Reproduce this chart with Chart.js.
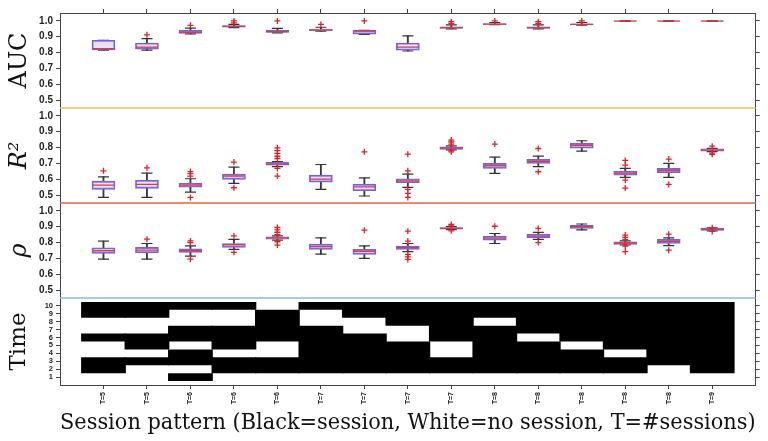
<!DOCTYPE html>
<html>
<head>
<meta charset="utf-8">
<script src="https://cdn.jsdelivr.net/npm/chart.js@4.4.1/dist/chart.umd.min.js"></script>
<style>
  html, body { margin: 0; padding: 0; background: #fff; }
</style>
</head>
<body>
<canvas id="sessionChart" width="768" height="441"></canvas>
<script>
const patternLabels = ["T=5", "T=5", "T=6", "T=6", "T=6", "T=7", "T=7", "T=7", "T=7", "T=8", "T=8", "T=8", "T=8", "T=8", "T=9"];
const patternTicks = [1, 2, 3, 4, 5, 6, 7, 8, 9, 10, 11, 12, 13, 14, 15];
const metricTicks = [0.5, 0.6, 0.7, 0.8, 0.9, 1.0];
const timeTicks = [1, 2, 3, 4, 5, 6, 7, 8, 9, 10];

// time slots (1..10) that hold a session, one list per pattern
const sessionTimes = [
    [2, 3, 6, 9, 10],
    [3, 5, 6, 9, 10],
    [1, 3, 4, 6, 7, 10],
    [2, 3, 5, 6, 7, 10],
    [2, 3, 6, 7, 8, 9],
    [2, 3, 4, 5, 6, 7, 10],
    [2, 3, 4, 5, 6, 9, 10],
    [2, 3, 4, 5, 8, 9, 10],
    [2, 3, 6, 7, 8, 9, 10],
    [2, 3, 4, 5, 6, 7, 9, 10],
    [2, 3, 4, 5, 7, 8, 9, 10],
    [2, 3, 4, 6, 7, 8, 9, 10],
    [2, 3, 5, 6, 7, 8, 9, 10],
    [3, 4, 5, 6, 7, 8, 9, 10],
    [2, 3, 4, 5, 6, 7, 8, 9, 10]
];

// AUC box plots
const aucLow = [0.815, 0.815, 0.918, 0.958, 0.925, 0.936, 0.915, 0.810, 0.950, 0.976, 0.950, 0.974, 0.997, 0.997, 0.997];
const aucQ1 = [0.817, 0.822, 0.921, 0.960, 0.927, 0.938, 0.917, 0.815, 0.952, 0.977, 0.952, 0.975, 0.998, 0.998, 0.998];
const aucMedian = [0.825, 0.835, 0.928, 0.965, 0.932, 0.943, 0.938, 0.835, 0.957, 0.980, 0.957, 0.978, 0.999, 0.999, 0.999];
const aucQ3 = [0.878, 0.860, 0.940, 0.970, 0.940, 0.948, 0.940, 0.860, 0.962, 0.983, 0.962, 0.981, 1.000, 1.000, 1.000];
const aucHigh = [0.878, 0.888, 0.955, 0.978, 0.953, 0.960, 0.940, 0.905, 0.975, 0.990, 0.975, 0.990, 1.000, 1.000, 1.000];
const aucOutliers = [[], [0.912], [0.972], [0.988, 1.0], [1.0], [0.978], [1.0], [], [0.985, 0.995], [1.0], [0.985, 0.995], [1.0], [], [], []];

// R^2 box plots
const r2Low = [0.485, 0.485, 0.519, 0.574, 0.680, 0.536, 0.494, 0.549, 0.785, 0.637, 0.679, 0.777, 0.612, 0.612, 0.774];
const r2Q1 = [0.536, 0.542, 0.549, 0.599, 0.689, 0.582, 0.527, 0.578, 0.788, 0.668, 0.700, 0.796, 0.626, 0.641, 0.777];
const r2Median = [0.563, 0.567, 0.563, 0.620, 0.697, 0.601, 0.552, 0.590, 0.797, 0.685, 0.712, 0.813, 0.638, 0.655, 0.784];
const r2Q3 = [0.588, 0.593, 0.574, 0.632, 0.706, 0.626, 0.569, 0.603, 0.805, 0.700, 0.725, 0.826, 0.651, 0.668, 0.792];
const r2High = [0.615, 0.639, 0.603, 0.676, 0.712, 0.693, 0.609, 0.632, 0.810, 0.740, 0.746, 0.843, 0.668, 0.700, 0.795];
const r2Outliers = [
    [0.653], [0.672], [0.620, 0.635, 0.648, 0.485], [0.708, 0.546],
    [0.798, 0.780, 0.763, 0.745, 0.731, 0.668, 0.620], [], [0.773],
    [0.758, 0.653, 0.536, 0.510, 0.485], [0.847, 0.835, 0.822, 0.780, 0.773], [0.822],
    [0.794, 0.647], [], [0.719, 0.689, 0.594, 0.544], [0.727, 0.567], [0.809, 0.765, 0.757]
];

// rho box plots
const rhoLow = [0.695, 0.695, 0.714, 0.757, 0.815, 0.727, 0.700, 0.742, 0.882, 0.794, 0.820, 0.880, 0.785, 0.780, 0.874];
const rhoQ1 = [0.731, 0.735, 0.738, 0.769, 0.821, 0.757, 0.725, 0.757, 0.885, 0.815, 0.830, 0.889, 0.788, 0.794, 0.876];
const rhoMedian = [0.748, 0.752, 0.748, 0.785, 0.830, 0.774, 0.745, 0.768, 0.890, 0.828, 0.840, 0.900, 0.797, 0.807, 0.883];
const rhoQ3 = [0.767, 0.769, 0.760, 0.794, 0.836, 0.790, 0.757, 0.777, 0.895, 0.840, 0.853, 0.908, 0.805, 0.820, 0.889];
const rhoHigh = [0.809, 0.794, 0.779, 0.820, 0.842, 0.830, 0.779, 0.794, 0.900, 0.857, 0.864, 0.917, 0.810, 0.830, 0.892];
const rhoOutliers = [
    [], [0.821], [0.810, 0.800, 0.695], [0.842, 0.738],
    [0.895, 0.880, 0.865, 0.850, 0.805, 0.784], [], [0.878],
    [0.872, 0.809, 0.725, 0.710, 0.693], [0.914, 0.905, 0.874], [0.903],
    [0.889, 0.800], [], [0.847, 0.832, 0.818, 0.778, 0.742], [0.853, 0.752], [0.894, 0.870]
];

function boxDatasets(axisId, low, q1, median, q3, high, outliers) {
    let whiskers = [];
    let caps = [];
    let boxes = [];
    let medians = [];
    let points = [];
    low.forEach(function (e, i) {
        let x = patternTicks[i];
        whiskers.push({ x: x, y: [low[i], q1[i]] });
        whiskers.push({ x: x, y: [q3[i], high[i]] });
        caps.push({ x: x, y: low[i] });
        caps.push({ x: x, y: high[i] });
        boxes.push({ x: x, y: [q1[i], q3[i]] });
        medians.push({ x: x, y: median[i] });
        outliers[i].forEach(v => points.push({ x: x, y: v }));
    });
    return [
        { type: "bar", data: whiskers, yAxisID: axisId, grouped: false, barThickness: 1.2, backgroundColor: "#3a3a3a", borderWidth: 0, order: 5 },
        { type: "scatter", data: caps, yAxisID: axisId, pointStyle: "line", radius: 5.5, borderColor: "#333", borderWidth: 1.2, order: 4 },
        { type: "bar", data: boxes, yAxisID: axisId, grouped: false, barThickness: 23, backgroundColor: "rgba(190,170,238,0.35)", borderColor: "#6f62dc", borderWidth: 1.2, borderSkipped: false, order: 3 },
        { type: "scatter", data: medians, yAxisID: axisId, pointStyle: "line", radius: 11, borderColor: "#e23a3a", borderWidth: 1.3, order: 2 },
        { type: "scatter", data: points, yAxisID: axisId, pointStyle: "cross", radius: 3, borderColor: "#e21f2a", borderWidth: 1.3, order: 1 }
    ];
}

// merge consecutive session slots into one black cell per run
let sessionCells = [];
sessionTimes.forEach(function (times, i) {
    let start = times[0];
    for (let k = 1; k <= times.length; k++) {
        if (k === times.length || times[k] !== times[k - 1] + 1) {
            sessionCells.push({ x: patternTicks[i], y: [start - 0.5, times[k - 1] + 0.5] });
            start = times[k];
        }
    }
});

const axisColor = "#444";
const serif = "'DejaVu Serif', 'Liberation Serif', serif";
const sans = "'Liberation Sans', Arial, sans-serif";

function setTicks(values) {
    return function (scale) {
        scale.ticks = values.map(v => ({ value: v }));
    };
}

function fixWidth(w) {
    return function (scale) {
        scale.width = w;
    };
}

function metricAxis(position, title, italic) {
    let left = position === "left";
    return {
        type: "linear",
        position: position,
        stack: position,
        stackWeight: 12,
        min: 0.45,
        max: 1.05,
        afterBuildTicks: setTicks(metricTicks),
        afterFit: fixWidth(left ? 60 : 8),
        ticks: {
            display: left,
            autoSkip: false,
            color: "#222",
            padding: 3,
            font: { family: sans, size: 10, weight: "bold" },
            callback: v => v.toFixed(1)
        },
        grid: { drawOnChartArea: false, tickLength: 4, color: axisColor },
        border: { color: axisColor },
        title: {
            display: left,
            text: title,
            color: "#111",
            padding: { top: 5, bottom: 2 },
            font: { family: serif, size: 24, style: italic ? "italic" : "normal" }
        }
    };
}

function timeAxis(position) {
    let left = position === "left";
    return {
        type: "linear",
        position: position,
        stack: position,
        stackWeight: 11,
        min: 0,
        max: 11,
        afterBuildTicks: setTicks(timeTicks),
        afterFit: fixWidth(left ? 60 : 8),
        ticks: {
            display: left,
            autoSkip: false,
            color: "#222",
            padding: 3,
            font: { family: sans, size: 7.5, weight: "bold" }
        },
        grid: { drawOnChartArea: false, tickLength: 4, color: axisColor },
        border: { color: axisColor },
        title: {
            display: left,
            text: "Time",
            color: "#111",
            padding: { top: 5, bottom: 2 },
            font: { family: serif, size: 23 }
        }
    };
}

const panelLines = {
    id: "panelLines",
    afterDraw(chart) {
        const ctx = chart.ctx;
        const area = chart.chartArea;
        [["yAUC", "#e8c15c"], ["yR2", "#e2653f"], ["yRho", "#86b9df"]].forEach(function (e) {
            let y = chart.scales[e[0]].getPixelForValue(0.45);
            ctx.save();
            ctx.strokeStyle = e[1];
            ctx.lineWidth = 1.5;
            ctx.beginPath();
            ctx.moveTo(area.left, y);
            ctx.lineTo(area.right, y);
            ctx.stroke();
            ctx.restore();
        });
    }
};

let datasets = []
    .concat(boxDatasets("yAUC", aucLow, aucQ1, aucMedian, aucQ3, aucHigh, aucOutliers))
    .concat(boxDatasets("yR2", r2Low, r2Q1, r2Median, r2Q3, r2High, r2Outliers))
    .concat(boxDatasets("yRho", rhoLow, rhoQ1, rhoMedian, rhoQ3, rhoHigh, rhoOutliers));
datasets.push({
    type: "bar",
    data: sessionCells,
    yAxisID: "yTime",
    grouped: false,
    barPercentage: 1.03,
    categoryPercentage: 1,
    backgroundColor: "#000",
    borderWidth: 0,
    order: 6
});

new Chart("sessionChart", {
    type: "bar",
    data: { datasets: datasets },
    plugins: [panelLines],
    options: {
        responsive: false,
        animation: false,
        events: [],
        layout: { padding: 0 },
        plugins: {
            legend: { display: false },
            tooltip: { enabled: false }
        },
        scales: {
            x: {
                type: "linear",
                position: "bottom",
                min: 0,
                max: 16,
                offset: false,
                afterBuildTicks: setTicks(patternTicks),
                afterFit: function (scale) { scale.height = 56; },
                ticks: {
                    autoSkip: false,
                    minRotation: 90,
                    maxRotation: 90,
                    padding: 3,
                    color: "#222",
                    font: { family: sans, size: 7, weight: "bold" },
                    callback: v => patternLabels[patternTicks.indexOf(v)]
                },
                grid: { drawOnChartArea: false, offset: false, tickLength: 4, color: axisColor },
                border: { color: axisColor },
                title: {
                    display: true,
                    text: "Session pattern (Black=session, White=no session, T=#sessions)",
                    color: "#111",
                    padding: { top: 2, bottom: 5 },
                    font: { family: serif, size: 22 }
                }
            },
            xTop: {
                type: "linear",
                position: "top",
                min: 0,
                max: 16,
                offset: false,
                afterBuildTicks: setTicks(patternTicks),
                afterFit: function (scale) { scale.height = 13; },
                ticks: { display: false },
                grid: { drawOnChartArea: false, offset: false, tickLength: 4, color: axisColor },
                border: { color: axisColor }
            },
            yTime: timeAxis("left"),
            yRho: metricAxis("left", "ρ", true),
            yR2: metricAxis("left", "R²", true),
            yAUC: metricAxis("left", "AUC", false),
            rAUC: metricAxis("right", "", false),
            rR2: metricAxis("right", "", false),
            rRho: metricAxis("right", "", false),
            rTime: timeAxis("right")
        }
    }
});
</script>
</body>
</html>
